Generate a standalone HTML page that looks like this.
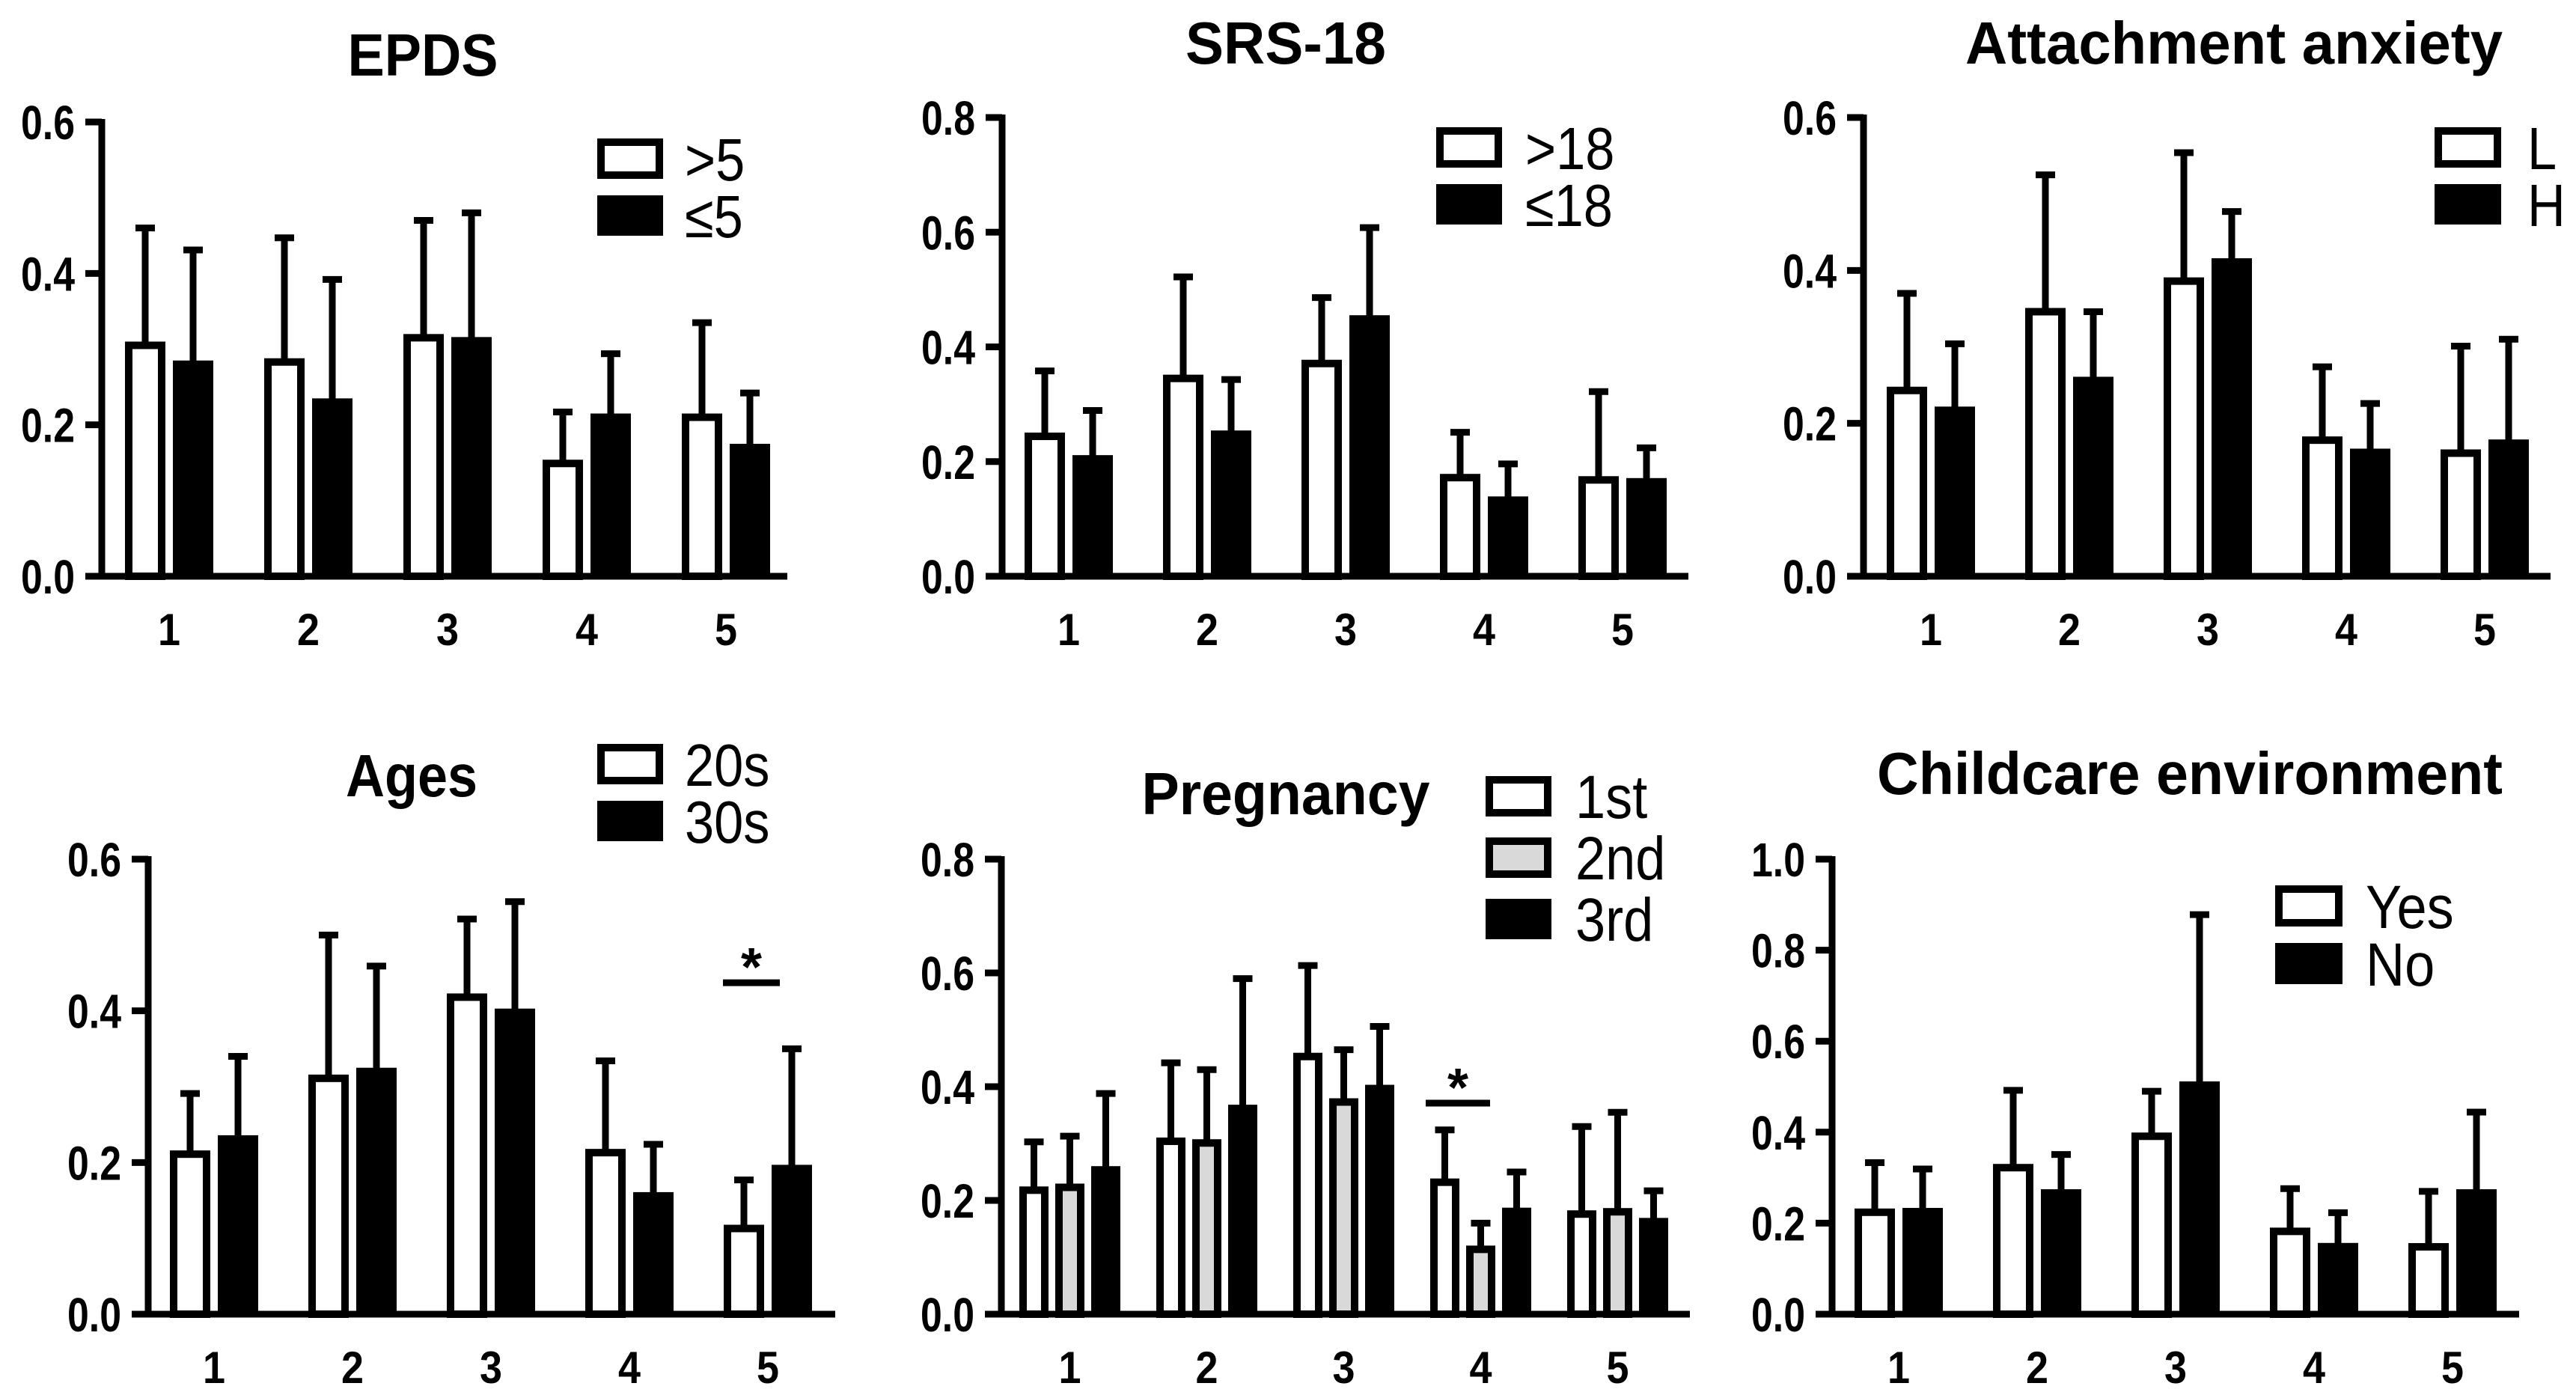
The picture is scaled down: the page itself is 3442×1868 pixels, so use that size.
<!DOCTYPE html>
<html><head><meta charset="utf-8"><style>
html,body{margin:0;padding:0;background:#fff;}
svg{display:block;}
text{font-family:"Liberation Sans",Arial,sans-serif;fill:#000;}
</style></head><body>
<svg id="fig" xmlns="http://www.w3.org/2000/svg" width="3442" height="1868" viewBox="0 0 3442 1868">
<rect x="0" y="0" width="3442" height="1868" fill="#fff"/>
</svg>
<script>
// ---- data ----
const categories = ["1","2","3","4","5"];
// EPDS
const epdsHigh = [0.305,0.283,0.315,0.149,0.210];
const epdsHighErr = [0.460,0.447,0.470,0.217,0.335];
const epdsLow = [0.281,0.231,0.312,0.211,0.171];
const epdsLowErr = [0.431,0.392,0.480,0.294,0.242];
// SRS-18
const srsHigh = [0.244,0.345,0.371,0.172,0.168];
const srsHighErr = [0.358,0.522,0.486,0.251,0.322];
const srsLow = [0.206,0.249,0.450,0.134,0.166];
const srsLowErr = [0.289,0.343,0.608,0.196,0.224];
// Attachment anxiety
const attL = [0.243,0.346,0.386,0.178,0.161];
const attLErr = [0.370,0.525,0.554,0.274,0.301];
const attH = [0.218,0.257,0.412,0.163,0.175];
const attHErr = [0.304,0.346,0.477,0.226,0.310];
// Ages
const age20 = [0.211,0.311,0.418,0.213,0.113];
const age20Err = [0.291,0.500,0.521,0.334,0.177];
const age30 = [0.232,0.321,0.399,0.157,0.193];
const age30Err = [0.340,0.459,0.544,0.224,0.350];
// Pregnancy
const preg1 = [0.218,0.304,0.453,0.232,0.176];
const preg1Err = [0.303,0.442,0.613,0.324,0.330];
const preg2 = [0.223,0.301,0.373,0.114,0.180];
const preg2Err = [0.313,0.430,0.465,0.160,0.355];
const preg3 = [0.255,0.363,0.398,0.182,0.164];
const preg3Err = [0.388,0.590,0.506,0.250,0.217];
// Childcare environment
const careYes = [0.224,0.322,0.391,0.182,0.148];
const careYesErr = [0.333,0.492,0.490,0.276,0.270];
const careNo = [0.227,0.268,0.505,0.150,0.268];
const careNoErr = [0.319,0.351,0.878,0.223,0.444];
// tick labels
const ticks06 = [0,0.2,0.4,0.6];
const ticks08 = [0,0.2,0.4,0.6,0.8];
const ticks10 = [0,0.2,0.4,0.6,0.8,1.0];
// significance
const agesSig = {group:4, level:0.437};
const pregSig = {group:3, level:0.371};

const NS="http://www.w3.org/2000/svg";
const svg=document.getElementById('fig');
function mk(tag,attrs,parent){const e=document.createElementNS(NS,tag);for(const k in attrs)e.setAttribute(k,attrs[k]);(parent||svg).appendChild(e);return e;}

function drawPanel(p){
  const g=mk('g',{});
  
  
  const yScale=v=>p.y0-(v/p.ymax)*(p.y0-p.yTop);
  const xGroup=i=>p.x0+p.first+i*p.spacing;
  const t=mk('text',{x:p.tx,y:p.ty,'text-anchor':'middle','font-size':80,'font-weight':'bold',textLength:p.tw,lengthAdjust:'spacingAndGlyphs'},g);
  t.textContent=p.title;
  
  
  p.series.forEach((s,si)=>{
    s.vals.forEach((v,i)=>{
      const bx=xGroup(i)+si*(p.barW+p.gap);
      const top=yScale(v), et=yScale(s.err[i]);
      const cx=bx+p.barW/2;
      const eb=mk('line',{x1:cx,y1:top,x2:cx,y2:et,stroke:'#000','stroke-width':9},g);
      
      
      mk('line',{x1:cx-13,y1:et,x2:cx+13,y2:et,stroke:'#000','stroke-width':9},g);
      let r;
      if(s.fill==='#000'){
        r=mk('rect',{x:bx,y:top-4,width:p.barW,height:p.y0-top+4,fill:'#000'},g);
      } else {
        r=mk('rect',{x:bx+5,y:top,width:p.barW-10,height:p.y0-top,fill:s.fill,stroke:'#000','stroke-width':10},g);
      }
      
      
    });
  });
  const ya=mk('line',{x1:p.x0,y1:p.yTop-4,x2:p.x0,y2:p.y0,stroke:'#000','stroke-width':9},g);
  
  
  const xa=mk('line',{x1:p.x0-22,y1:p.y0,x2:p.xEnd,y2:p.y0,stroke:'#000','stroke-width':9},g);
  
  
  p.ticks.forEach(tv=>{
    const y=yScale(tv);
    mk('line',{x1:p.x0-22,y1:y,x2:p.x0,y2:y,stroke:'#000','stroke-width':9},g);
    const lab=mk('text',{x:p.x0-36,y:y+23,'text-anchor':'end','font-size':64,'font-weight':'bold',textLength:72,lengthAdjust:'spacingAndGlyphs'},g);
    lab.textContent=tv.toFixed(1);
    
    
  });
  categories.forEach((c,i)=>{
    const cx=xGroup(i)+(p.series.length*p.barW+(p.series.length-1)*p.gap)/2;
    const lab=mk('text',{x:cx,y:p.y0+92,'text-anchor':'middle','font-size':60,'font-weight':'bold',textLength:30,lengthAdjust:'spacingAndGlyphs'},g);
    lab.textContent=c;
    
    
  });
  p.series.forEach((s,si)=>{
    const ly=p.ly+si*p.lstep;
    let r;
    if(s.fill==='#000') r=mk('rect',{x:p.lx,y:ly,width:p.lw,height:p.lh,fill:'#000'},g);
    else r=mk('rect',{x:p.lx+5,y:ly+5,width:p.lw-10,height:p.lh-10,fill:s.fill,stroke:'#000','stroke-width':10},g);
    
    
    const lt=mk('text',{x:p.ltx,y:ly+p.lh+2,'font-size':p.lfs},g);
    lt.textContent=s.label;
    
    
    const len=lt.getComputedTextLength();
    if(len>0){lt.setAttribute('textLength',len*0.88);lt.setAttribute('lengthAdjust','spacingAndGlyphs');}
  });
  if(p.sig){
    const x1=xGroup(p.sig.group)+p.sig.a, x2=xGroup(p.sig.group)+p.sig.b;
    const y=yScale(p.sig.level);
    const sl=mk('line',{x1:x1,y1:y,x2:x2,y2:y,stroke:'#000','stroke-width':9},g);
    
    
    const st=mk('text',{x:(x1+x2)/2,y:y+4,'text-anchor':'middle','font-size':72,'font-weight':'bold'},g);
    st.textContent='*';
    
    
  }
}

const two=(a,ae,b,be,la,lb)=>[{vals:a,err:ae,fill:'#fff',label:la},{vals:b,err:be,fill:'#000',label:lb}];

drawPanel({name:'epds',title:'EPDS',tx:565,ty:101,tw:201,x0:136,y0:770,yTop:163,ymax:0.6,ticks:ticks06,first:31,spacing:186,barW:54,gap:10,xEnd:1052,
  series:two(epdsHigh,epdsHighErr,epdsLow,epdsLowErr,'>5','\u22645'),lx:798,ly:185,lw:88,lh:54,lstep:76,ltx:915,lfs:80});
drawPanel({name:'srs18',title:'SRS-18',tx:1718,ty:85,tw:268,x0:1339,y0:770,yTop:157,ymax:0.8,ticks:ticks08,first:30,spacing:185,barW:54,gap:10,xEnd:2256,
  series:two(srsHigh,srsHighErr,srsLow,srsLowErr,'>18','\u226418'),lx:1919,ly:170,lw:88,lh:54,lstep:76,ltx:2038,lfs:80});
drawPanel({name:'attachment-anxiety',title:'Attachment anxiety',tx:2985,ty:85,tw:718,x0:2490,y0:770,yTop:157,ymax:0.6,ticks:ticks06,first:31,spacing:185,barW:54,gap:10,xEnd:3408,
  series:two(attL,attLErr,attH,attHErr,'L','H'),lx:3253,ly:170,lw:89,lh:54,lstep:76,ltx:3377,lfs:80});
drawPanel({name:'ages',title:'Ages',tx:550,ty:1064,tw:176,x0:198,y0:1756,yTop:1148,ymax:0.6,ticks:ticks06,first:29,spacing:185,barW:54,gap:10,xEnd:1116,
  series:two(age20,age20Err,age30,age30Err,'20s','30s'),lx:798,ly:994,lw:88,lh:54,lstep:76,ltx:915,lfs:80,
  sig:{group:agesSig.group,level:agesSig.level,a:-1,b:75}});
drawPanel({name:'pregnancy',title:'Pregnancy',tx:1718,ty:1088,tw:385,x0:1338,y0:1756,yTop:1148,ymax:0.8,ticks:ticks08,first:24,spacing:183,barW:39,gap:9,xEnd:2258,
  series:[{vals:preg1,err:preg1Err,fill:'#fff',label:'1st'},{vals:preg2,err:preg2Err,fill:'#d9d9d9',label:'2nd'},{vals:preg3,err:preg3Err,fill:'#000',label:'3rd'}],
  lx:1985,ly:1037,lw:88,lh:54,lstep:82,ltx:2105,lfs:82,
  sig:{group:pregSig.group,level:pregSig.level,a:-6,b:80}});
drawPanel({name:'childcare-environment',title:'Childcare environment',tx:2926,ty:1061,tw:836,x0:2448,y0:1756,yTop:1148,ymax:1.0,ticks:ticks10,first:30,spacing:185,barW:54,gap:10,xEnd:3366,
  series:two(careYes,careYesErr,careNo,careNoErr,'Yes','No'),lx:3040,ly:1183,lw:90,lh:55,lstep:77,ltx:3161,lfs:82});
</script>
</body></html>
